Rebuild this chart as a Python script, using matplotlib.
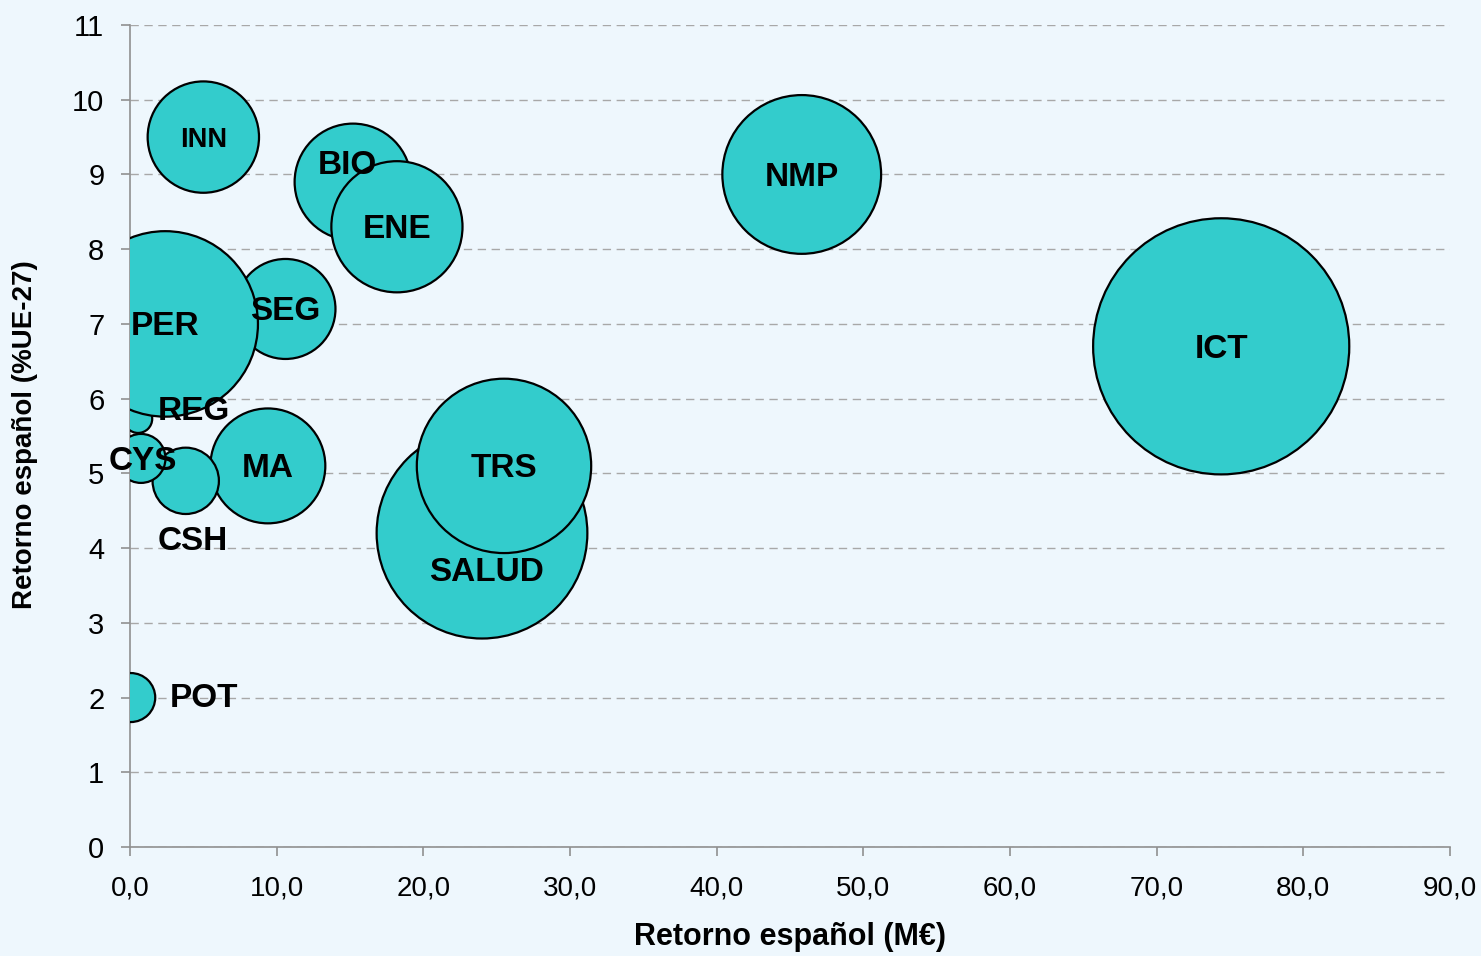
import matplotlib
matplotlib.use("Agg")
import matplotlib.pyplot as plt
import numpy as np
from matplotlib.ticker import FuncFormatter

plt.rcParams['font.family'] = ['Liberation Sans', 'DejaVu Sans']

# ---- data ----
labels = ["SALUD", "TRS", "BIO", "ENE", "INN", "NMP", "ICT", "SEG", "REG", "PER",
          "MA", "CSH", "CYS", "POT"]
retorno_meur = [24.0, 25.5, 15.2, 18.2, 5.0, 45.8, 74.4, 10.6, 0.55, 2.4,
                9.4, 3.8, 0.75, 0.05]
retorno_pct = [4.2, 5.1, 8.9, 8.3, 9.5, 9.0, 6.7, 7.2, 5.73, 7.0,
               5.1, 4.9, 5.2, 2.0]
bubble_size = [111, 76, 34, 43, 31, 63, 164, 25, 2, 86,
               33, 11, 6, 6]
x_ticks = [0, 10, 20, 30, 40, 50, 60, 70, 80, 90]
y_ticks = list(range(0, 12))

# label offsets from bubble centre (points) and font sizes
label_offset = {"BIO": (-4, 12), "REG": (40, 5), "CYS": (1, -2), "CSH": (5, -44),
                "SALUD": (3, -28), "POT": (53, -1)}
label_fs = {"INN": 19.5}

BG = "#EEF7FD"
FILL = "#33CCCC"

fig = plt.figure(figsize=(14.81, 9.56), dpi=100, facecolor=BG)
ax = fig.add_axes([130/1481, (956-847)/956, 1320/1481, 822/956])
ax.set_facecolor(BG)

ax.set_xlim(0, 90)
ax.set_ylim(0, 11)

ax.scatter(retorno_meur, retorno_pct, s=np.array(bubble_size) * 207.4,
           color=FILL, edgecolor="black", linewidth=1.6, zorder=3)

for lab, x, y in zip(labels, retorno_meur, retorno_pct):
    dx, dy = label_offset.get(lab, (0, -2))
    ax.annotate(lab, (x, y), xytext=(dx, dy), textcoords="offset points",
                ha="center", va="center", fontsize=label_fs.get(lab, 24),
                fontweight="bold", color="black", zorder=5, annotation_clip=False)

ax.set_xticks(x_ticks)
ax.set_yticks(y_ticks)
ax.xaxis.set_major_formatter(FuncFormatter(lambda v, p: f"{v:.1f}".replace(".", ",")))
ax.yaxis.grid(True, linestyle=(0, (6, 4)), color="#A8A8A8", linewidth=1.0, zorder=0)
ax.set_axisbelow(True)

for s in ["top", "right"]:
    ax.spines[s].set_visible(False)
for s in ["left", "bottom"]:
    ax.spines[s].set_color("#909090")
    ax.spines[s].set_linewidth(1.2)

ax.tick_params(axis="x", length=6.5, width=1.2, color="#909090", labelsize=20, pad=14)
ax.tick_params(axis="y", length=6.5, width=1.2, color="#909090", labelsize=21, pad=12)

fig.text(790/1481, 1 - 937/956, "Retorno español (M€)", fontsize=22,
         fontweight="bold", ha="center", va="center")
fig.text(25/1481, 1 - 435/956, "Retorno español (%UE-27)", fontsize=20,
         fontweight="bold", ha="center", va="center", rotation=90)

fig.savefig("out.png", dpi=100, facecolor=BG)
